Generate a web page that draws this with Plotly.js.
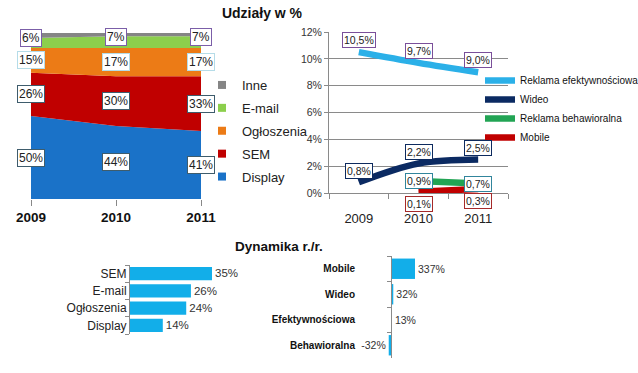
<!DOCTYPE html>
<html><head><meta charset="utf-8">
<script src="https://cdn.plot.ly/plotly-3.0.1.min.js"></script>
<style>html,body{margin:0;padding:0;background:#fff}</style>
</head><body><div id="chart" style="width:638px;height:373px"></div>
<script>
// ---- data ----
const years = ['2009', '2010', '2011'];
const shareNames = ['Display', 'SEM', 'Ogłoszenia', 'E-mail', 'Inne'];
const display = [50, 44, 41];
const sem = [26, 30, 33];
const ogloszenia = [15, 17, 17];
const email = [6, 7, 7];
const inne = [3, 2, 2];

const lineNames = ['Reklama efektywnościowa', 'Wideo', 'Reklama behawioralna', 'Mobile'];
const efektywnosciowa = [10.5, 9.7, 9.0];
const wideo = [0.8, 2.2, 2.5];
const behawioralna = [null, 0.9, 0.7];
const mobile = [null, 0.1, 0.3];

const dynCatsA = ['SEM', 'E-mail', 'Ogłoszenia', 'Display'];
const dynValsA = [35, 26, 24, 14];
const dynCatsB = ['Mobile', 'Wideo', 'Efektywnościowa', 'Behawioralna'];
const dynValsB = [337, 32, 13, -32];

// ---- styling ----
const W = 638, H = 373;
const px = x => x / W;
const py = y => 1 - y / H;
const SANS = 'Liberation Sans, Arial, sans-serif';
const shareColors = ['#1a72c8', '#c00000', '#ec7b16', '#8ccf4c', '#858585'];
const lineColors = ['#2bb0e8', '#0b2a62', '#22a454', '#c00000'];
const barColor = '#12aee9';

const shareSeries = [display, sem, ogloszenia, email, inne];
const lineSeries = [efektywnosciowa, wideo, behawioralna, mobile];

const traces = [];
// stacked area
shareSeries.forEach((s, k) => {
  traces.push({
    type: 'scatter', x: years, y: s, name: shareNames[k], stackgroup: 'one',
    mode: 'none', fillcolor: shareColors[k], line: {width: 0},
    xaxis: 'x', yaxis: 'y', showlegend: false, hoverinfo: 'skip'
  });
});
// legend entries for area chart (top to bottom: Inne ... Display)
for (let k = shareNames.length - 1; k >= 0; k--) {
  traces.push({
    type: 'scatter', x: [null], y: [null], name: shareNames[k], mode: 'markers',
    marker: {symbol: 'square', size: 8, color: shareColors[k]},
    xaxis: 'x', yaxis: 'y', legend: 'legend', legendgroup: 'g' + k, showlegend: true
  });
}
// line chart
lineSeries.forEach((s, k) => {
  traces.push({
    type: 'scatter', x: years, y: s, name: lineNames[k], mode: 'lines',
    line: {color: lineColors[k], width: 6.5, shape: 'spline'},
    xaxis: 'x2', yaxis: 'y2', legend: 'legend2', showlegend: true, connectgaps: false
  });
});
// dynamics bars
traces.push({
  type: 'bar', orientation: 'h', y: dynCatsA, x: dynValsA, width: 0.78,
  marker: {color: barColor}, text: dynValsA.map(v => v + '%'), textposition: 'outside',
  textfont: {family: SANS, size: 12, color: '#333'}, cliponaxis: false,
  xaxis: 'x3', yaxis: 'y3', showlegend: false
});
traces.push({
  type: 'bar', orientation: 'h', y: dynCatsB, x: dynValsB, width: 0.8,
  marker: {color: barColor}, text: dynValsB.map(v => v + '%'), textposition: 'outside',
  textfont: {family: SANS, size: 10.5, color: '#333'}, cliponaxis: false,
  xaxis: 'x4', yaxis: 'y4', showlegend: false
});

// ---- annotations ----
const annotations = [];
const shareBorder = ['#3e5c6c', '#3e5c6c', '#b5dce8', '#7b5ea8'];
years.forEach((yr, i) => {
  let cum = 0;
  for (let k = 0; k < 4; k++) {
    const v = shareSeries[k][i];
    annotations.push({
      xref: 'x', yref: 'y', x: i, y: cum + v / 2, yshift: k === 3 ? 5 : 0,
      text: v + '%', showarrow: false, bgcolor: '#fff', bordercolor: shareBorder[k],
      borderwidth: 1, borderpad: 1, font: {family: SANS, size: 12, color: '#222'}
    });
    cum += v;
  }
});
const lineBorder = ['#7a4f9a', '#0d2a5e', '#31859c', '#a52a2a'];
const lineShift = [12, 11, 0, -12];
lineSeries.forEach((s, k) => {
  s.forEach((v, i) => {
    if (v === null) return;
    annotations.push({
      xref: 'x2', yref: 'y2', x: i, y: v, yshift: lineShift[k],
      text: v.toFixed(1).replace('.', ',') + '%', showarrow: false, bgcolor: '#fff',
      bordercolor: lineBorder[k], borderwidth: 1, borderpad: 1,
      font: {family: SANS, size: 10.5, color: '#222'}
    });
  });
});
annotations.push({
  xref: 'paper', yref: 'paper', x: px(279), y: py(246), xanchor: 'center', yanchor: 'middle',
  text: 'Dynamika r./r.', showarrow: false, font: {family: SANS, size: 13.5, weight: 'bold', color: '#111'}
});

const layout = {
  width: W, height: H, margin: {l: 0, r: 0, t: 0, b: 0, autoexpand: false},
  paper_bgcolor: '#fff', plot_bgcolor: 'rgba(0,0,0,0)',
  font: {family: SANS, color: '#222'},
  title: {text: 'Udziały w %', x: px(262), y: py(13), xanchor: 'center', yanchor: 'middle',
          font: {family: SANS, size: 14, weight: 'bold', color: '#111'}},
  showlegend: true,
  xaxis: {domain: [px(31), px(201)], type: 'category', range: [0, 2], showgrid: false,
          zeroline: false, showline: false, ticks: 'outside', ticklen: 6, tickcolor: '#888',
          tickfont: {family: SANS, size: 13.5, weight: 'bold', color: '#111'}},
  yaxis: {domain: [py(199), py(33)], range: [0, 100], visible: false},
  xaxis2: {domain: [px(329), px(508)], type: 'category', range: [-0.5, 2.5], tickson: 'boundaries',
           showgrid: false, showline: true, linecolor: '#8a8a8a', ticks: 'outside', ticklen: 5,
           tickcolor: '#8a8a8a', ticklabelstandoff: 13,
           tickfont: {family: SANS, size: 13, color: '#222'}, anchor: 'y2'},
  yaxis2: {domain: [py(193), py(32)], range: [0, 12], dtick: 2, ticksuffix: '%', showgrid: true,
           gridcolor: '#8a8a8a', zeroline: false, showline: true, linecolor: '#8a8a8a',
           ticks: 'outside', ticklen: 4, tickcolor: '#8a8a8a',
           tickfont: {family: SANS, size: 10.5, color: '#333'}, anchor: 'x2'},
  xaxis3: {domain: [px(130), px(300)], range: [0, 170 / 2.343], visible: false, anchor: 'y3'},
  yaxis3: {domain: [py(334), py(265)], type: 'category', autorange: 'reversed', tickson: 'boundaries',
           tickmode: 'array', tickvals: dynCatsA,
           showline: true, linecolor: '#8a8a8a', ticks: 'outside', ticklen: 4, tickcolor: '#8a8a8a',
           showgrid: false, tickfont: {family: SANS, size: 12, color: '#222'}, anchor: 'x3'},
  xaxis4: {domain: [px(360), px(460)], range: [-31 / 0.0712, 69 / 0.0712], visible: false, anchor: 'y4'},
  yaxis4: {domain: [py(358), py(256)], type: 'category', autorange: 'reversed', tickson: 'boundaries',
           tickmode: 'array', tickvals: dynCatsB, anchor: 'free', position: px(391),
           showline: true, linecolor: '#8a8a8a', ticks: 'outside', ticklen: 4, tickcolor: '#8a8a8a',
           showgrid: false, ticklabelstandoff: 34,
           tickfont: {family: SANS, size: 10, weight: 'bold', color: '#111'}},
  legend: {x: px(202), y: py(70), xanchor: 'left', yanchor: 'top', bgcolor: 'rgba(0,0,0,0)',
           font: {family: SANS, size: 13, color: '#222'}, traceorder: 'grouped', tracegroupgap: 3, itemwidth: 30},
  legend2: {x: px(480), y: py(66), xanchor: 'left', yanchor: 'top', bgcolor: 'rgba(0,0,0,0)',
            font: {family: SANS, size: 10, color: '#111'}, traceorder: 'normal', tracegroupgap: 0, itemwidth: 30},
  annotations: annotations
};

Plotly.newPlot('chart', traces, layout, {displayModeBar: false, staticPlot: true});
</script></body></html>
